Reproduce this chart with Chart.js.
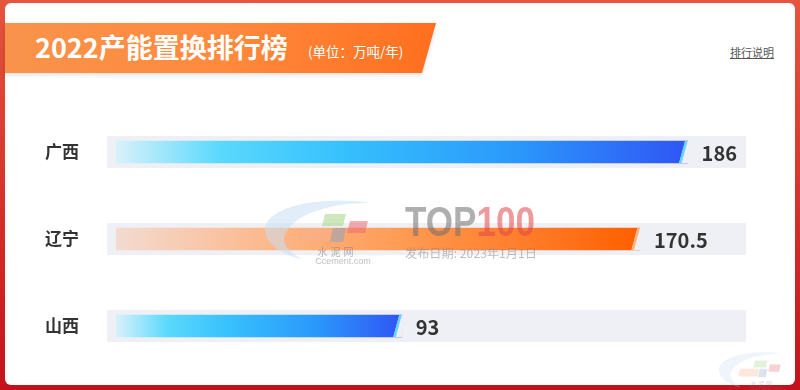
<!DOCTYPE html>
<html>
<head>
<meta charset="utf-8">
<script src="https://cdn.jsdelivr.net/npm/chart.js@4"></script>
<style>
  html, body { margin: 0; padding: 0; }
  body {
    width: 800px; height: 390px; overflow: hidden; position: relative;
    background: linear-gradient(180deg, #e5553f, #d3302a 55%, #c3121b);
    font-family: "Noto Sans CJK SC", "Noto Sans", sans-serif;
  }
  #panel { position: absolute; left: 5px; top: 3px; width: 790px; height: 382px; background: #fff; border-radius: 6px; }
  #bannerWrap { position: absolute; left: 5px; top: 23px; filter: drop-shadow(0 2px 2px rgba(0,0,0,0.12)); }
  #banner {
    width: 431px; height: 50px;
    background: linear-gradient(90deg, #f8934b, #ff8a3d 50%, #ff6f1f);
    clip-path: polygon(0 0, 100% 0, calc(100% - 14px) 100%, 0 100%);
  }
  #title { position: absolute; left: 35px; top: 33px; font-size: 27px; line-height: 27px; font-weight: 700; color: #fff; white-space: nowrap; }
  #unit { position: absolute; left: 308px; top: 44px; font-size: 13.5px; line-height: 14px; color: #fff; white-space: nowrap; }
  #note { position: absolute; left: 730px; top: 46px; font-size: 11px; line-height: 12px; color: #555; text-decoration: underline; white-space: nowrap; }
  #chart { position: absolute; left: 0; top: 0; }
  #mark { position: absolute; left: 0; top: 0; width: 800px; height: 390px; pointer-events: none; }
</style>
</head>
<body>
<div id="panel"></div>
<div id="bannerWrap"><div id="banner"></div></div>
<div id="title">2022产能置换排行榜</div>
<div id="unit">(单位：万吨/年)</div>
<div id="note">排行说明</div>
<canvas id="chart" width="800" height="390"></canvas>
<svg id="mark" width="800" height="390" viewBox="0 0 800 390">
  <defs>
    <g id="logo">
      <path d="M370 203 C 320 195, 262 207, 265 232 C 267 246, 285 256, 302 259 C 285 250, 279 240, 289 228 C 302 211, 336 203, 370 203 Z" fill="#c9def2"/>
      <polygon points="325,214 346,214 343,226 322,226" fill="#a6d583"/>
      <polygon points="350,221 368,221 365,233 347,233" fill="#ec6b74"/>
      <polygon points="300,228 332,228 329,241 297,241" fill="#f8b08c"/>
      <polygon points="333,228 346,228 343,242 330,242" fill="#8ea3c4"/>
      <text x="337" y="256" font-size="10" fill="#777" text-anchor="middle" letter-spacing="3" font-family="Noto Sans CJK SC">水泥网</text>
      <text x="343" y="264" font-size="9" fill="#888" text-anchor="middle" font-family="Liberation Sans">Ccement.com</text>
    </g>
  </defs>
  <g opacity="0.55">
    <use href="#logo"/>
    <circle cx="389" cy="229" r="1.5" fill="#bbb"/>
    <text x="405" y="236" font-size="42" font-weight="700" textLength="130" lengthAdjust="spacingAndGlyphs" font-family="Liberation Sans"><tspan fill="#6e6e6e">TOP</tspan><tspan fill="#e0464c">100</tspan></text>
    <text x="405" y="258" font-size="12" fill="#888" textLength="132" lengthAdjust="spacingAndGlyphs" font-family="Noto Sans CJK SC">发布日期: 2023年1月1日</text>
  </g>
  <g opacity="0.3" transform="translate(560 232) scale(0.6)">
    <use href="#logo"/>
  </g>
</svg>
<script>
const categories = ['广西', '辽宁', '山西'];
const capacity = [186, 170.5, 93];
const valueLabels = ['186', '170.5', '93'];
const axisMax = 205;

const barThemes = ['blue', 'orange', 'blue'];
const stops = {
  blue: [[0, '#d8f1fa'], [0.18, '#5bd9fd'], [0.4, '#36c0fd'], [0.7, '#2a98fb'], [1, '#3055f5']],
  orange: [[0, '#f3dbd0'], [0.3, '#fcb789'], [0.55, '#ff9a52'], [0.8, '#ff7a26'], [1, '#ff5f00']]
};
const tipColor = { blue: '#66d2ff', orange: '#ffb27a' };
const trackColor = '#eef0f6';

const rankPlugin = {
  id: 'rank',
  beforeDatasetsDraw(chart) {
    const { ctx, chartArea, scales: { y } } = chart;
    ctx.save();
    ctx.fillStyle = trackColor;
    categories.forEach((_, i) => {
      const cy = y.getPixelForValue(i);
      ctx.fillRect(chartArea.left - 9, cy - 16, chartArea.right - chartArea.left + 9, 32);
    });
    ctx.restore();
  },
  afterDatasetsDraw(chart) {
    const ctx = chart.ctx;
    ctx.save();
    chart.getDatasetMeta(0).data.forEach((bar, i) => {
      const top = bar.y - bar.height / 2, bot = bar.y + bar.height / 2, x = bar.x;
      // slanted end
      ctx.fillStyle = trackColor;
      ctx.beginPath();
      ctx.moveTo(x - 2.5, top); ctx.lineTo(x + 1, top); ctx.lineTo(x + 1, bot); ctx.lineTo(x - 8.5, bot);
      ctx.closePath(); ctx.fill();
      ctx.fillStyle = tipColor[barThemes[i]];
      ctx.beginPath();
      ctx.moveTo(x - 2.5, top); ctx.lineTo(x, top); ctx.lineTo(x - 6, bot); ctx.lineTo(x - 8.5, bot);
      ctx.closePath(); ctx.fill();
      // value
      ctx.fillStyle = '#333';
      ctx.font = '600 20px "Noto Sans CJK SC"';
      ctx.textBaseline = 'middle';
      ctx.textAlign = 'left';
      ctx.fillText(valueLabels[i], x + 14, bar.y + 1);
    });
    ctx.restore();
  }
};

new Chart(document.getElementById('chart'), {
  type: 'bar',
  data: {
    labels: categories,
    datasets: [{
      data: capacity,
      barThickness: 22,
      borderWidth: 0,
      backgroundColor: c => {
        const ch = c.chart;
        if (!ch.chartArea) return '#29a8fd';
        const xs = ch.scales.x;
        const x0 = xs.getPixelForValue(0), x1 = xs.getPixelForValue(c.raw);
        const g = ch.ctx.createLinearGradient(x0, 0, x1, 0);
        stops[barThemes[c.dataIndex]].forEach(s => g.addColorStop(s[0], s[1]));
        return g;
      }
    }]
  },
  options: {
    indexAxis: 'y',
    responsive: false,
    animation: false,
    layout: { padding: { left: 45, right: 54, top: 108.5, bottom: 20.5 } },
    plugins: { legend: { display: false }, tooltip: { enabled: false } },
    scales: {
      x: { display: false, min: 0, max: axisMax },
      y: {
        grid: { display: false, drawTicks: false },
        border: { display: false },
        ticks: { padding: 0, crossAlign: 'far', color: '#333', font: { size: 17, weight: '600', family: '"Noto Sans CJK SC"' } },
        afterFit: s => { s.width = 71; }
      }
    }
  },
  plugins: [rankPlugin]
});
</script>
</body>
</html>
